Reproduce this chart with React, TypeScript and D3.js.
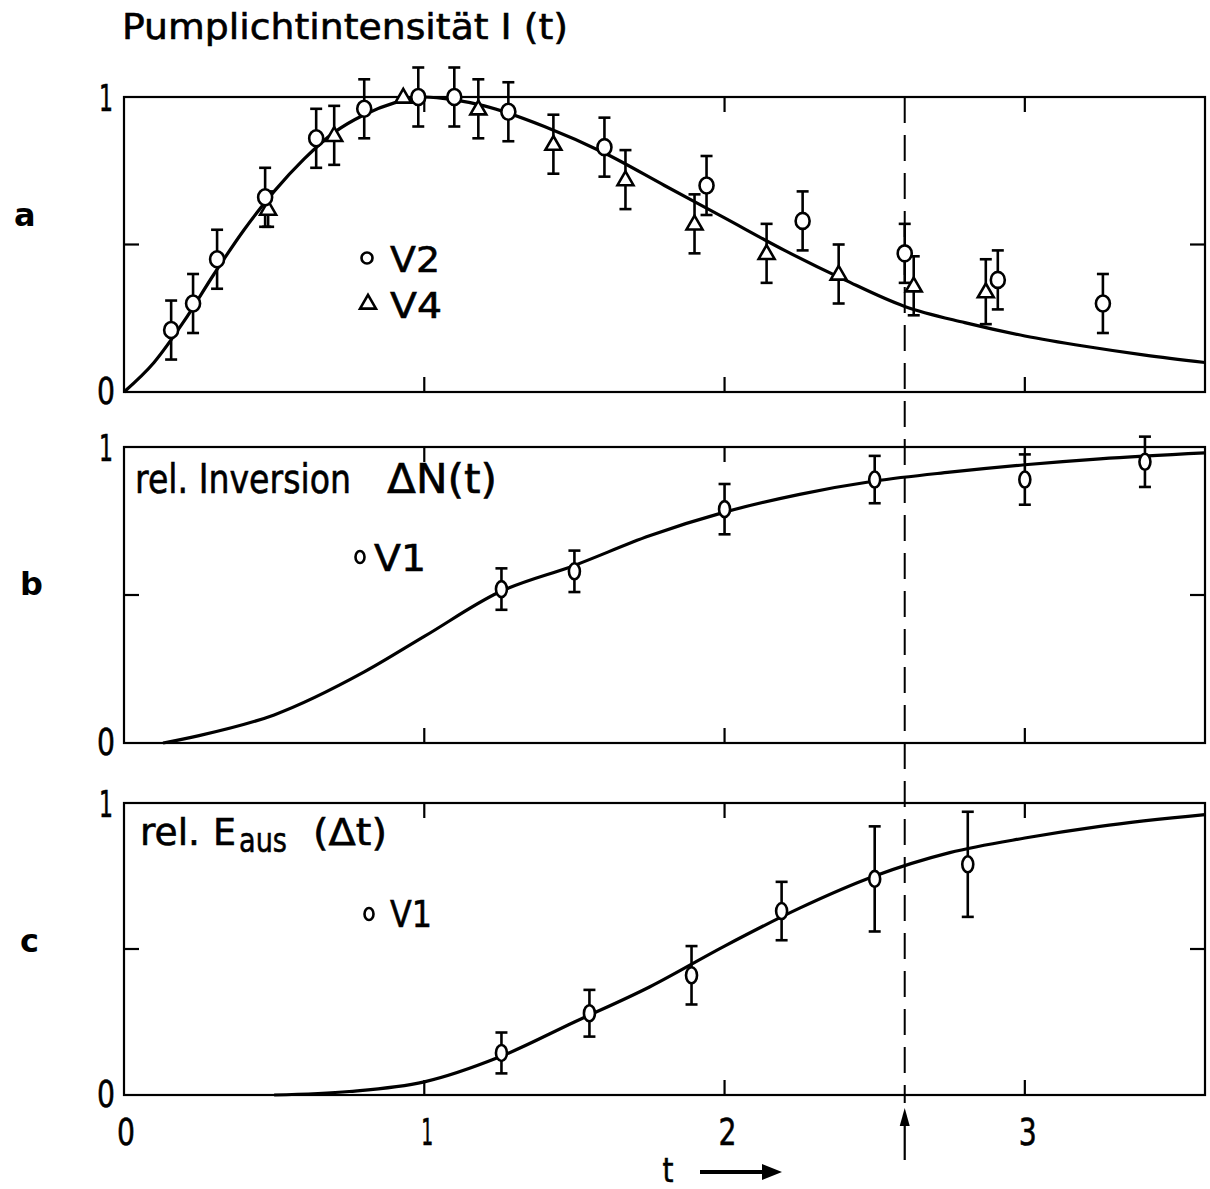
import React from "react";
import * as d3 from "d3";

// ---- data ----
const V2_t = [0.157, 0.23, 0.31, 0.47, 0.64, 0.80, 0.98, 1.10, 1.28, 1.60, 1.94, 2.26, 2.60, 2.91, 3.26];
const V2_v = [0.21, 0.30, 0.45, 0.66, 0.86, 0.96, 1.0, 1.0, 0.95, 0.83, 0.70, 0.58, 0.47, 0.38, 0.30];
const V2_e = [0.10, 0.10, 0.10, 0.10, 0.10, 0.10, 0.10, 0.10, 0.10, 0.10, 0.10, 0.10, 0.10, 0.10, 0.10];

const V4_t = [0.48, 0.70, 0.93, 1.18, 1.43, 1.67, 1.90, 2.14, 2.38, 2.63, 2.87];
const V4_v = [0.62, 0.87, 1.0, 0.96, 0.84, 0.72, 0.57, 0.47, 0.40, 0.36, 0.34];
const V4_e = [0.06, 0.10, 0.0, 0.10, 0.10, 0.10, 0.10, 0.10, 0.10, 0.10, 0.11];

const curveA_t = [0, 0.1, 0.2, 0.3, 0.4, 0.5, 0.6, 0.7, 0.8, 0.9, 1.0, 1.1, 1.2, 1.4, 1.6, 1.8, 2.0, 2.2, 2.4, 2.6, 2.8, 3.0, 3.2, 3.4, 3.6];
const curveA_v = [0, 0.1, 0.24, 0.40, 0.55, 0.68, 0.79, 0.88, 0.94, 0.98, 1.0, 0.99, 0.97, 0.90, 0.81, 0.70, 0.59, 0.48, 0.38, 0.29, 0.235, 0.19, 0.155, 0.125, 0.10];

const B_t = [1.257, 1.50, 2.0, 2.5, 3.0, 3.40];
const B_v = [0.52, 0.58, 0.79, 0.89, 0.89, 0.95];
const B_e = [0.07, 0.07, 0.085, 0.08, 0.085, 0.085];

const curveB_t = [0.13, 0.25, 0.5, 0.8, 1.0, 1.25, 1.5, 1.75, 2.0, 2.25, 2.5, 2.75, 3.0, 3.25, 3.6];
const curveB_v = [0, 0.025, 0.095, 0.24, 0.36, 0.51, 0.60, 0.70, 0.78, 0.84, 0.885, 0.915, 0.94, 0.96, 0.98];

const C_t = [1.257, 1.55, 1.89, 2.19, 2.50, 2.81];
const C_v = [0.144, 0.28, 0.41, 0.63, 0.74, 0.79];
const C_e = [0.07, 0.08, 0.10, 0.10, 0.18, 0.18];

const curveC_t = [0.5, 0.75, 1.0, 1.25, 1.5, 1.75, 2.0, 2.25, 2.5, 2.75, 3.0, 3.25, 3.6];
const curveC_v = [0, 0.012, 0.045, 0.13, 0.25, 0.37, 0.51, 0.64, 0.75, 0.83, 0.88, 0.92, 0.96];

const xTicks = [0, 1, 2, 3];
const markT = 2.6;

const FONT = "'DejaVu Sans', sans-serif";

const x = d3.scaleLinear().domain([0, 3.6]).range([124, 1205]);

const panels = [
  { top: 97, bottom: 392 },
  { top: 447, bottom: 743 },
  { top: 803, bottom: 1095 },
];

// narrow text helper (condensed look)
function NT({ x: tx, y: ty, size, w, anchor, children }: any) {
  return (
    <text
      x={tx}
      y={ty}
      fontSize={size}
      textAnchor={anchor || "start"}
      textLength={w}
      lengthAdjust="spacingAndGlyphs"
      stroke="#000"
      strokeWidth={0.6}
      fill="#000"
    >
      {children}
    </text>
  );
}

function Frame({ y }: { y: d3.ScaleLinear<number, number> }) {
  const [b, t] = y.range();
  const L = x.range()[0], R = x.range()[1];
  const tk = 15;
  return (
    <g stroke="#000" strokeWidth={2.2} fill="none">
      <rect x={L} y={t} width={R - L} height={b - t} />
      {[1, 2, 3].map((v) => (
        <g key={v}>
          <line x1={x(v)} x2={x(v)} y1={t} y2={t + tk} />
          <line x1={x(v)} x2={x(v)} y1={b} y2={b - tk} />
        </g>
      ))}
      <line x1={L} x2={L + tk} y1={y(0.5)} y2={y(0.5)} />
      <line x1={R} x2={R - tk} y1={y(0.5)} y2={y(0.5)} />
    </g>
  );
}

function ErrBars({ t, v, e, y }: any) {
  return (
    <g stroke="#000" strokeWidth={2.6}>
      {t.map((tt: number, i: number) =>
        e[i] > 0 ? (
          <g key={i}>
            <line x1={x(tt)} x2={x(tt)} y1={y(v[i] - e[i])} y2={y(v[i] + e[i])} />
            <line x1={x(tt) - 6} x2={x(tt) + 6} y1={y(v[i] - e[i])} y2={y(v[i] - e[i])} />
            <line x1={x(tt) - 6} x2={x(tt) + 6} y1={y(v[i] + e[i])} y2={y(v[i] + e[i])} />
          </g>
        ) : null
      )}
    </g>
  );
}

function Circles({ t, v, y, rx, ry }: any) {
  return (
    <g stroke="#000" strokeWidth={2.6} fill="#fff">
      {t.map((tt: number, i: number) => (
        <ellipse key={i} cx={x(tt)} cy={y(v[i])} rx={rx} ry={ry} />
      ))}
    </g>
  );
}

function Triangles({ t, v, y }: any) {
  const sym = d3.symbol().type(d3.symbolTriangle).size(110);
  return (
    <g stroke="#000" strokeWidth={2.6} fill="#fff">
      {t.map((tt: number, i: number) => (
        <path key={i} d={sym() as string} transform={`translate(${x(tt)},${y(v[i]) + 1})`} />
      ))}
    </g>
  );
}

function Curve({ t, v, y }: any) {
  const line = d3
    .line<number>()
    .x((d, i) => x(t[i]))
    .y((d) => y(d))
    .curve(d3.curveMonotoneX);
  return <path d={line(v) as string} fill="none" stroke="#000" strokeWidth={3.2} />;
}

export default function App() {
  const ys = panels.map((p) => d3.scaleLinear().domain([0, 1]).range([p.bottom, p.top]));
  const [ya, yb, yc] = ys;
  const sym = d3.symbol().type(d3.symbolTriangle).size(110);
  return (
    <svg width={1210} height={1189} style={{ position: "absolute", left: 0, top: 0, background: "#fff" }} fontFamily={FONT}>
      <rect width={1210} height={1189} fill="#fff" />
      {ys.map((y, i) => (
        <Frame key={i} y={y} />
      ))}
      {/* dashed marker line */}
      <line x1={x(markT)} x2={x(markT)} y1={ya(1)} y2={yc(0) + 8} stroke="#000" strokeWidth={2} strokeDasharray="26 12" />

      {/* panel a */}
      <Curve t={curveA_t} v={curveA_v} y={ya} />
      <ErrBars t={V2_t} v={V2_v} e={V2_e} y={ya} />
      <ErrBars t={V4_t} v={V4_v} e={V4_e} y={ya} />
      <Triangles t={V4_t} v={V4_v} y={ya} />
      <Circles t={V2_t} v={V2_v} y={ya} rx={7} ry={8} />

      {/* panel b */}
      <Curve t={curveB_t} v={curveB_v} y={yb} />
      <ErrBars t={B_t} v={B_v} e={B_e} y={yb} />
      <Circles t={B_t} v={B_v} y={yb} rx={5.5} ry={8} />

      {/* panel c */}
      <Curve t={curveC_t} v={curveC_v} y={yc} />
      <ErrBars t={C_t} v={C_v} e={C_e} y={yc} />
      <Circles t={C_t} v={C_v} y={yc} rx={5.5} ry={8} />

      {/* titles & legends */}
      <NT x={122} y={39} size={36} w={446}>Pumplichtintensität I (t)</NT>
      <text x={14} y={226} fontSize={32} fontWeight="bold">a</text>
      <text x={20} y={595} fontSize={32} fontWeight="bold">b</text>
      <text x={20} y={952} fontSize={32} fontWeight="bold">c</text>

      <circle cx={367} cy={258} r={5.5} fill="#fff" stroke="#000" strokeWidth={2.6} />
      <NT x={390} y={272} size={36} w={50}>V2</NT>
      <path d={sym() as string} transform="translate(368,304)" fill="#fff" stroke="#000" strokeWidth={2.6} />
      <NT x={390} y={318} size={36} w={52}>V4</NT>

      <NT x={135} y={493} size={40} w={216}>rel. Inversion</NT>
      <NT x={387} y={493} size={40} w={110}>ΔN(t)</NT>
      <ellipse cx={360} cy={557} rx={4.5} ry={6} fill="#fff" stroke="#000" strokeWidth={2.6} />
      <NT x={374} y={571} size={38} w={52}>V1</NT>

      <NT x={140} y={845} size={38} w={60}>rel.</NT>
      <NT x={213} y={845} size={38} w={23}>E</NT>
      <NT x={239} y={852} size={34} w={48}>aus</NT>
      <NT x={313} y={845} size={38} w={74}>(Δt)</NT>
      <ellipse cx={369} cy={914} rx={4.5} ry={6} fill="#fff" stroke="#000" strokeWidth={2.6} />
      <NT x={390} y={927} size={38} w={42}>V1</NT>

      {/* y labels */}
      {ys.map((y, i) => (
        <g key={i}>
          <NT x={106} y={y(1) + 14} size={38} w={14} anchor="middle">1</NT>
          <NT x={106} y={y(0) + 12} size={38} w={18} anchor="middle">0</NT>
        </g>
      ))}

      {/* x tick labels */}
      {xTicks.map((v) => (
        <NT key={v} x={x(v) + (v === 0 ? 2 : 3)} y={1145} size={38} w={v === 1 ? 12 : 18} anchor="middle">{v}</NT>
      ))}
      {/* arrow under dashed line */}
      <line x1={x(markT)} x2={x(markT)} y1={1160} y2={1122} stroke="#000" strokeWidth={2.2} />
      <path d={`M${x(markT)},1108 L${x(markT) - 5},1126 L${x(markT) + 5},1126 Z`} fill="#000" />

      {/* t -> */}
      <NT x={668} y={1182} size={34} w={11} anchor="middle">t</NT>
      <line x1={700} x2={765} y1={1172} y2={1172} stroke="#000" strokeWidth={4} />
      <path d="M762,1164 L782,1172 L762,1180 Z" fill="#000" />
    </svg>
  );
}
